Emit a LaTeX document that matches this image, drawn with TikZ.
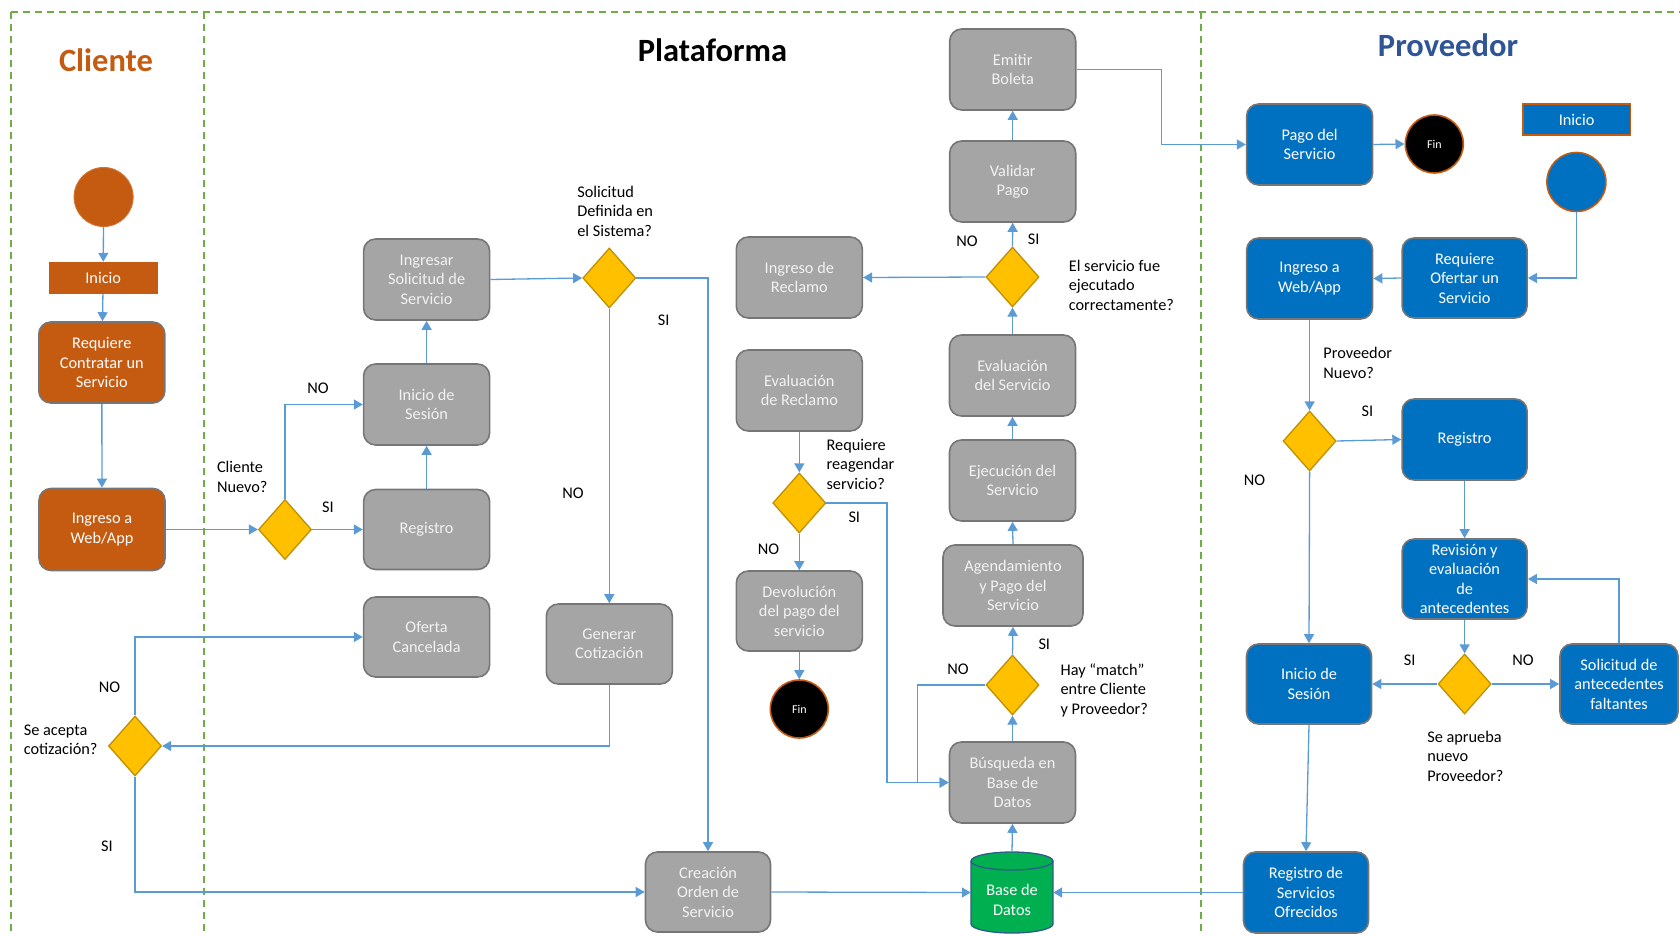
\documentclass[tikz,border=0pt]{standalone}
\usepackage{fontspec}
\setmainfont{Carlito}
\usetikzlibrary{shapes.geometric,arrows.meta}

\definecolor{laneGreen}{HTML}{70AD47}
\definecolor{cliOrange}{HTML}{C55A11}
\definecolor{platGray}{HTML}{A5A5A5}
\definecolor{boxEdge}{HTML}{767676}
\definecolor{boxText}{HTML}{F2F2F2}
\definecolor{provBlue}{HTML}{0070C0}
\definecolor{provTitle}{HTML}{2F5597}
\definecolor{decFill}{HTML}{FFC000}
\definecolor{decEdge}{HTML}{BF9000}
\definecolor{flowBlue}{HTML}{5B9BD5}
\definecolor{dbGreen}{HTML}{00B050}
\definecolor{dbEdge}{HTML}{2E5C8A}

\begin{document}
\begin{tikzpicture}[x=1pt,y=-1pt,
  boxfont/.style={font=\fontsize{16.3}{19.5}\selectfont, align=center},
  proc/.style={boxfont, rectangle, rounded corners=12pt, draw=boxEdge, line width=1.6pt,
    minimum width=126pt, minimum height=81pt, inner sep=1pt, text=white},
  platbox/.style={proc, fill=platGray, text=boxText},
  clibox/.style={proc, fill=cliOrange},
  provbox/.style={proc, fill=provBlue},
  decision/.style={diamond, draw=decEdge, fill=decFill, line width=1.3pt,
    minimum width=53pt, minimum height=60pt, inner sep=0pt},
  note/.style={font=\fontsize{16.3}{19.5}\selectfont, align=left, anchor=west, inner sep=0pt},
  yesno/.style={font=\fontsize{16.3}{19}\selectfont, inner sep=0pt},
  conn/.style={draw=flowBlue, line width=1.3pt, -{Triangle[length=9pt,width=10pt]}},
  lane/.style={draw=laneGreen, line width=2pt, dash pattern=on 7pt off 5pt},
  lanetitle/.style={font=\fontsize{32.5}{38}\selectfont\bfseries, inner sep=0pt},
  endcircle/.style={circle, fill=black, draw=cliOrange, line width=1.6pt, minimum size=58pt,
    inner sep=0pt, text=white, font=\fontsize{12}{14}\selectfont}
]
\useasboundingbox (0,0) rectangle (1680,936);

% swimlane borders
\draw[lane] (10.7,12) -- (1680,12);
\draw[lane] (10.7,12) -- (10.7,936);
\draw[lane] (203.6,12) -- (203.6,936);
\draw[lane] (1201.4,12) -- (1201.4,936);

% lane titles
\node[lanetitle, text=cliOrange] (tCli) at (106,60) {Cliente};
\node[lanetitle, text=black] (tPlat) at (712.5,50) {Plataforma};
\node[lanetitle, text=provTitle] (tProv) at (1448,45) {Proveedor};

% ---------- Cliente ----------
\node[circle, fill=cliOrange, draw=cliOrange!85!white, line width=1pt, minimum size=59pt, inner sep=0pt] (cStart) at (103.6,197) {};
\node[rectangle, fill=cliOrange, minimum width=108.6pt, minimum height=32pt, inner sep=0pt,
  text=white, font=\fontsize{16.3}{19}\selectfont] (cInicio) at (103.2,278) {Inicio};
\node[clibox] (cReq) at (101.8,362.5) {Requiere\\Contratar un\\Servicio};
\node[clibox, minimum height=82pt] (cIng) at (102,529.5) {Ingreso a\\Web/App};
\node[decision] (dCli) at (285,529.5) {};
\node[decision] (dAcep) at (135,746) {};

% ---------- Plataforma ----------
\node[platbox] (pIngSol) at (426.6,279.5) {Ingresar\\Solicitud de\\Servicio};
\node[platbox] (pIniSes) at (426.6,404.5) {Inicio de\\Sesión};
\node[platbox, minimum height=80pt] (pReg) at (426.6,529.5) {Registro};
\node[platbox, minimum height=80pt] (pOferta) at (426.6,637) {Oferta\\Cancelada};
\node[decision] (dSol) at (609.3,278) {};
\node[platbox, minimum height=80pt] (pGen) at (609.3,644) {Generar\\Cotización};
\node[platbox, minimum width=125pt, minimum height=80pt] (pCrea) at (708,892) {Creación\\Orden de\\Servicio};
\node[platbox] (pIngRec) at (799.3,277.5) {Ingreso de\\Reclamo};
\node[platbox] (pEvalRec) at (799.3,390.5) {Evaluación\\de Reclamo};
\node[decision] (dReag) at (799.3,503) {};
\node[platbox, minimum height=80pt] (pDevol) at (799.3,611) {Devolución\\del pago del\\servicio};
\node[endcircle] (fin1) at (799.3,709) {Fin};
\node[platbox] (pEmitir) at (1012.7,69.5) {Emitir\\Boleta};
\node[platbox] (pValidar) at (1012.7,181.5) {Validar\\Pago};
\node[decision] (dEjec) at (1012.5,277) {};
\node[platbox] (pEvalServ) at (1012.5,375.5) {Evaluación\\del Servicio};
\node[platbox] (pEjec) at (1012.5,480.5) {Ejecución del\\Servicio};
\node[platbox, minimum width=140pt] (pAgend) at (1013,585.5) {Agendamiento\\y Pago del\\Servicio};
\node[decision] (dMatch) at (1012.5,685) {};
\node[platbox] (pBusq) at (1012.5,782.5) {Búsqueda en\\Base de\\Datos};

% database cylinder
\node[rectangle, minimum width=82pt, minimum height=81pt, inner sep=0pt] (bd) at (1012,892.5) {};
\path[fill=dbGreen, draw=dbEdge, line width=1.3pt]
  (971,861) -- (971,924)
  .. controls (971,928.97) and (989.36,933) .. (1012,933)
  .. controls (1034.64,933) and (1053,928.97) .. (1053,924)
  -- (1053,861)
  .. controls (1053,856.03) and (1034.64,852) .. (1012,852)
  .. controls (989.36,852) and (971,856.03) .. (971,861) -- cycle;
\draw[dbEdge, line width=1.3pt] (971,861)
  .. controls (971,865.97) and (989.36,870) .. (1012,870)
  .. controls (1034.64,870) and (1053,865.97) .. (1053,861);
\node[boxfont, text=white, inner sep=0pt] (bdText) at (1012,900) {Base de\\Datos};

% ---------- Proveedor ----------
\node[provbox] (vPago) at (1309.6,144.5) {Pago del\\Servicio};
\node[endcircle] (fin2) at (1434.3,144) {Fin};
\node[rectangle, fill=provBlue, draw=cliOrange, line width=1.6pt, minimum width=107.5pt,
  minimum height=31pt, inner sep=0pt, text=white, font=\fontsize{16.3}{19}\selectfont] (vInicio) at (1576.6,119.5) {Inicio};
\node[circle, fill=provBlue, draw=cliOrange, line width=1.6pt, minimum size=59pt, inner sep=0pt] (vStart) at (1576.4,182) {};
\node[provbox, minimum width=125pt, minimum height=80pt] (vReqOf) at (1464.6,278) {Requiere\\Ofertar un\\Servicio};
\node[provbox] (vIng) at (1309.6,278.5) {Ingreso a\\Web/App};
\node[decision] (dProv) at (1309.6,441) {};
\node[provbox, minimum width=125pt] (vReg) at (1464.6,439.5) {Registro};
\node[provbox, minimum width=125pt, minimum height=80pt, inner sep=0pt] (vRevis) at (1464.6,579) {Revisión y\\evaluación\\de\\antecedentes};
\node[decision] (dApr) at (1464.6,684) {};
\node[provbox, minimum width=125pt, minimum height=80pt] (vIniSes) at (1309,684) {Inicio de\\Sesión};
\node[provbox, minimum width=118pt, minimum height=80pt] (vSolAnt) at (1619,684) {Solicitud de\\antecedentes\\faltantes};
\node[provbox, minimum width=125pt] (vRegServ) at (1306,892.5) {Registro de\\Servicios\\Ofrecidos};

% ---------- connectors ----------
\coordinate (reagTurn) at (887,503);
\coordinate (matchTurn) at (917.5,685);
\coordinate (boletaTurn) at (1161.4,69.5);

\draw[conn] (cStart) -- (cInicio);
\draw[conn] (cInicio) -- (cReq);
\draw[conn] (cReq) -- (cIng);
\draw[conn] (cIng.east) -- (dCli.west);
\draw[conn] (dCli.east) -- (pReg.west);
\draw[conn] (dCli.north) |- (pIniSes.west);
\draw[conn] (pReg) -- (pIniSes);
\draw[conn] (pIniSes) -- (pIngSol);
\draw[conn] (pIngSol.east) -- (dSol.west);
\draw[conn] (dSol.south) -- (pGen.north);
\draw[conn] (dSol.east) -| (pCrea.north);
\draw[conn] (pGen.south) |- (dAcep.east);
\draw[conn] (dAcep.north) |- (pOferta.west);
\draw[conn] (dAcep.south) |- (pCrea.west);
\draw[conn] (pCrea.east) -- (bd.west);
\draw[conn] (vRegServ.west) -- (bd.east);
\draw[conn] (bd.north) -- (pBusq.south);
\draw[conn] (pBusq.north) -- (dMatch.south);
\draw[conn] (dMatch.north) -- (pAgend.south);
\draw[conn] (dMatch.west) -- (matchTurn) |- (pBusq.west);
\draw[conn] (dReag.east) -- (reagTurn) |- (pBusq.west);
\draw[conn] (pAgend.north) -- (pEjec.south);
\draw[conn] (pEjec.north) -- (pEvalServ.south);
\draw[conn] (pEvalServ.north) -- (dEjec.south);
\draw[conn] (dEjec.north) -- (pValidar.south);
\draw[conn] (dEjec.west) -- (pIngRec.east);
\draw[conn] (pValidar.north) -- (pEmitir.south);
\draw[conn] (pEmitir.east) -- (boletaTurn) |- (vPago.west);
\draw[conn] (pEvalRec.south) -- (dReag.north);
\draw[conn] (dReag.south) -- (pDevol.north);
\draw[conn] (pDevol.south) -- (fin1.north);
\draw[conn] (vPago.east) -- (fin2.west);
\draw[conn] (vStart.south) |- (vReqOf.east);
\draw[conn] (vReqOf.west) -- (vIng.east);
\draw[conn] (vIng.south) -- (dProv.north);
\draw[conn] (dProv.east) -- (vReg.west);
\draw[conn] (dProv.south) -- (vIniSes.north);
\draw[conn] (vReg.south) -- (vRevis.north);
\draw[conn] (vRevis.south) -- (dApr.north);
\draw[conn] (dApr.west) -- (vIniSes.east);
\draw[conn] (dApr.east) -- (vSolAnt.west);
\draw[conn] (vSolAnt.north) |- (vRevis.east);
\draw[conn] (vIniSes.south) -- (vRegServ.north);

% ---------- decision answers ----------
\node[yesno] (aCliNo) at (318,388) {NO};
\node[yesno] (aCliSi) at (328,507) {SI};
\node[yesno] (aAcepNo) at (109.6,687) {NO};
\node[yesno] (aAcepSi) at (107,846) {SI};
\node[yesno] (aSolSi) at (663.6,320) {SI};
\node[yesno] (aSolNo) at (573,493) {NO};
\node[yesno] (aEjecNo) at (967,241) {NO};
\node[yesno] (aEjecSi) at (1033.6,239) {SI};
\node[yesno] (aReagSi) at (854.3,517) {SI};
\node[yesno] (aReagNo) at (768.6,549) {NO};
\node[yesno] (aMatchSi) at (1044.3,644) {SI};
\node[yesno] (aMatchNo) at (958,669) {NO};
\node[yesno] (aProvSi) at (1367.5,411) {SI};
\node[yesno] (aProvNo) at (1254.6,480) {NO};
\node[yesno] (aAprSi) at (1409.6,660) {SI};
\node[yesno] (aAprNo) at (1523,660) {NO};

% ---------- questions ----------
\node[note] (qCli) at (216.8,477) {Cliente\\Nuevo?};
\node[note] (qAcep) at (23.6,740) {Se acepta\\cotización?};
\node[note] (qSol) at (577.1,211) {Solicitud\\Definida en\\el Sistema?};
\node[note] (qEjec) at (1068.6,285) {El servicio fue\\ejecutado\\correctamente?};
\node[note] (qReag) at (826.4,464) {Requiere\\reagendar\\servicio?};
\node[note] (qMatch) at (1060.4,690) {Hay “match”\\entre Cliente\\y Proveedor?};
\node[note] (qProv) at (1323.2,363) {Proveedor\\Nuevo?};
\node[note] (qApr) at (1427.1,756) {Se aprueba\\nuevo\\Proveedor?};
\end{tikzpicture}
\end{document}
